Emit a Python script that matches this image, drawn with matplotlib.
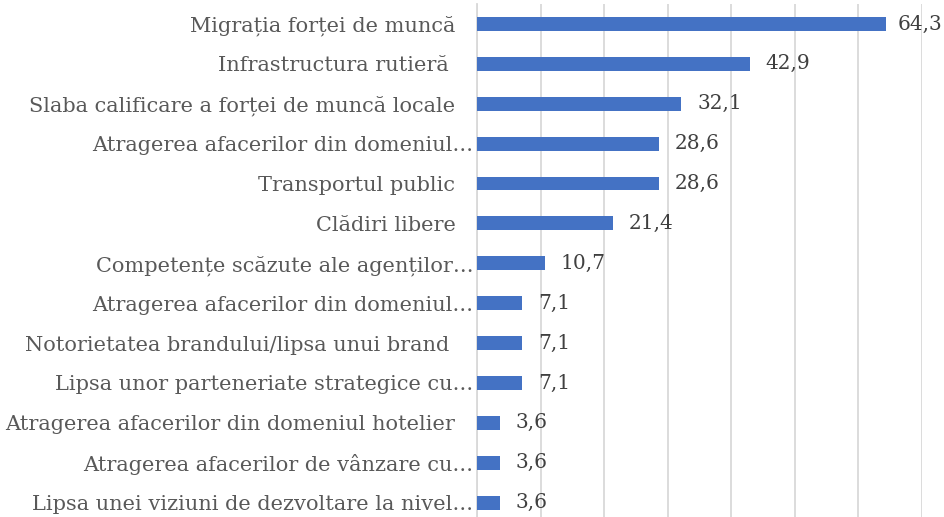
import matplotlib.pyplot as plt
from matplotlib.transforms import ScaledTranslation

labels = [
    "Migrația forței de muncă",
    "Infrastructura rutieră ",
    "Slaba calificare a forței de muncă locale",
    "Atragerea afacerilor din domeniul…",
    "Transportul public",
    "Clădiri libere",
    "Competențe scăzute ale agenților…",
    "Atragerea afacerilor din domeniul…",
    "Notorietatea brandului/lipsa unui brand ",
    "Lipsa unor parteneriate strategice cu…",
    "Atragerea afacerilor din domeniul hotelier",
    "Atragerea afacerilor de vânzare cu…",
    "Lipsa unei viziuni de dezvoltare la nivel…",
]
values = [64.3, 42.9, 32.1, 28.6, 28.6, 21.4, 10.7, 7.1, 7.1, 7.1, 3.6, 3.6, 3.6]
value_labels = ["64,3", "42,9", "32,1", "28,6", "28,6", "21,4", "10,7", "7,1", "7,1", "7,1", "3,6", "3,6", "3,6"]

text_col = "#595959"
fig = plt.figure(figsize=(9.44, 5.17), dpi=100)
ax = fig.add_axes([477 / 944, 0, 445 / 944, 513 / 517])

y = list(range(len(labels)))
ax.barh(y, values, height=0.35, color="#4472C4", zorder=3)
ax.set_xlim(0, 70)
ax.set_ylim(12.36, -0.5)
ax.set_xticks(range(0, 71, 10))
ax.xaxis.grid(True, color="#D9D9D9", linewidth=1.3)
ax.tick_params(axis="x", bottom=False, labelbottom=False)
ax.tick_params(axis="y", left=False, pad=12)
for s in ["top", "right", "bottom"]:
    ax.spines[s].set_visible(False)
ax.spines["left"].set_color("#D9D9D9")
ax.spines["left"].set_linewidth(1.3)

ax.set_yticks(y)
ax.set_yticklabels(labels, fontfamily="DejaVu Serif", fontsize=15, color=text_col)
for lab, t in zip(labels, ax.get_yticklabels()):
    if lab.endswith("…"):
        t.set_transform(t.get_transform() + ScaledTranslation(18 / 100, 0, fig.dpi_scale_trans))

anns = []
for yi, v, s in zip(y, values, value_labels):
    a = ax.annotate(s, (v, yi), xytext=(11.5, 0), textcoords="offset points",
                    va="center", ha="left", fontfamily="DejaVu Serif",
                    fontsize=14.5, color="#404040", annotation_clip=False)
    anns.append(a)

# keep value labels inside the figure (the longest one gets pushed left)
fig.canvas.draw()
r = fig.canvas.get_renderer()
for a in anns:
    bb = a.get_window_extent(r)
    if bb.x1 > fig.bbox.width - 2:
        dx = (bb.x1 - fig.bbox.width + 2) * 72 / fig.dpi
        a.set_position((a.xyann[0] - dx, 0))

fig.savefig("out.png", dpi=100)
